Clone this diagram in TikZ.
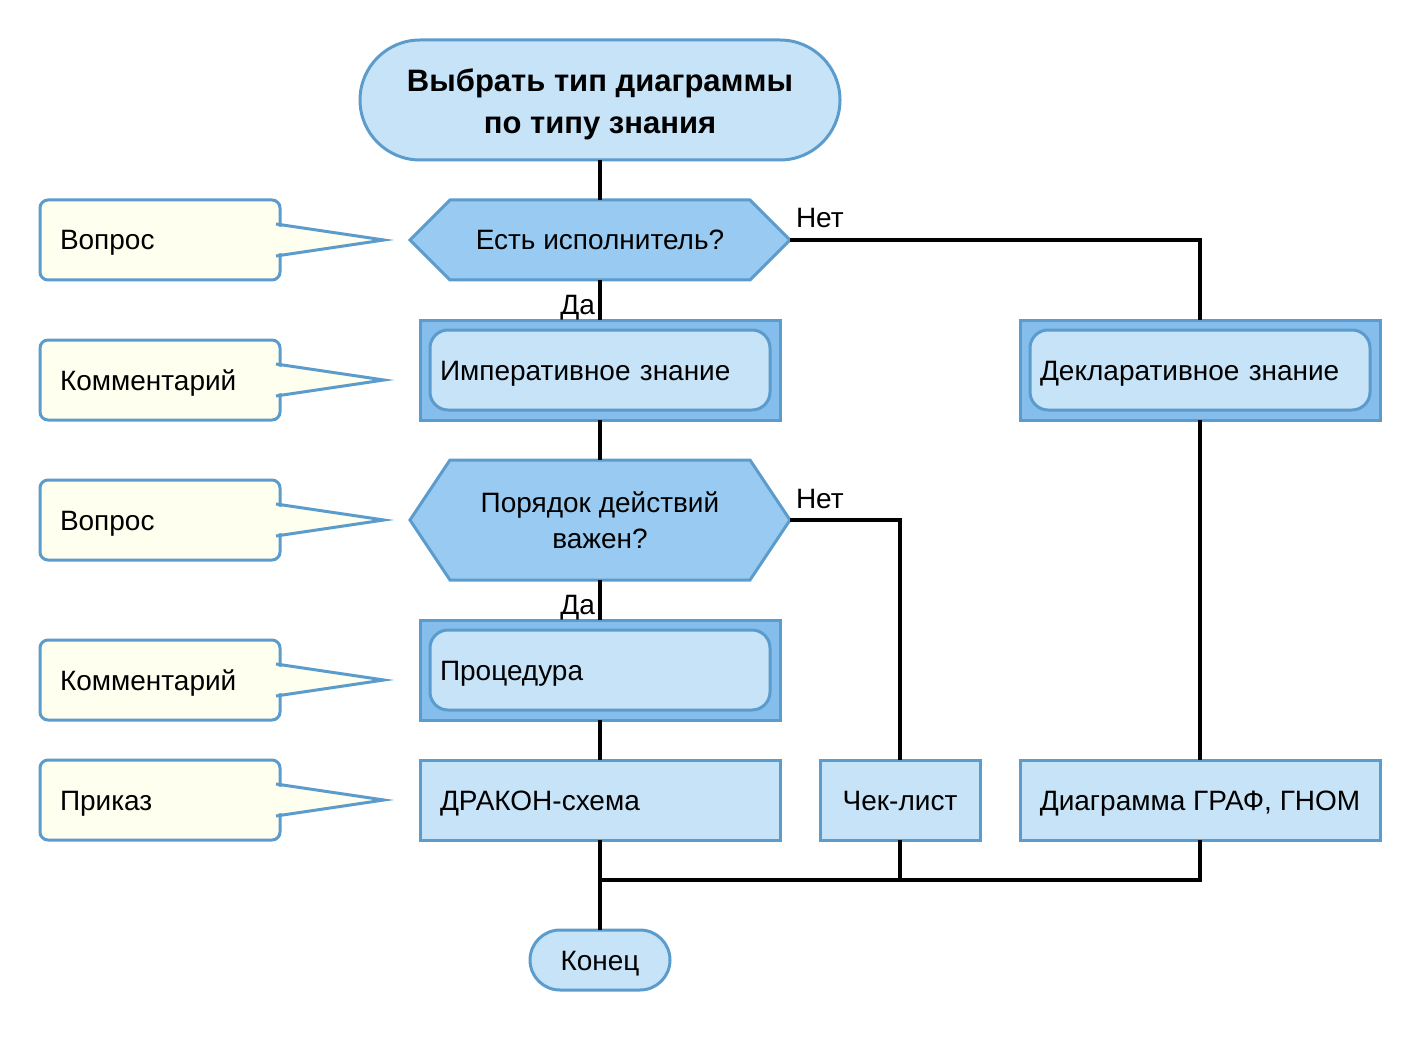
\documentclass[tikz,border=0pt]{standalone}
\usepackage{fontspec}
\setmainfont{Liberation Sans}
\usetikzlibrary{calc,backgrounds}
\definecolor{strokeblue}{RGB}{92,156,204}
\definecolor{lightblue}{RGB}{198,227,247}
\definecolor{midblue}{RGB}{153,203,242}
\definecolor{outerblue}{RGB}{133,190,236}
\definecolor{ivory}{RGB}{255,255,239}
\begin{document}
\begin{tikzpicture}[x=1pt,y=-1pt,
  every node/.style={outer sep=0pt},
  txt/.style={font=\fontsize{28}{36}\selectfont},
  one/.style={text height=26pt, text depth=6pt},
  bl/.style={draw=strokeblue, line width=3pt},
  stadium/.style={bl, fill=lightblue, txt},
  outerbox/.style={bl, fill=outerblue, minimum width=360, minimum height=100},
  innerbox/.style={bl, fill=lightblue, rounded corners=18, minimum width=340, minimum height=80,
     text width=320, inner xsep=10, align=left, txt, one},
  plainbox/.style={bl, fill=lightblue, minimum height=80, txt, one},
  hexnode/.style={minimum width=380, txt, align=center},
  hexfill/.style={bl, fill=midblue, line join=miter},
  callbox/.style={bl, fill=ivory, rounded corners=8, minimum width=240, minimum height=80,
     text width=200, inner xsep=20, align=left, txt, one},
  callptr/.style={bl, fill=ivory, line join=miter},
  conn/.style={line width=3.6pt, black, line join=miter},
  lbl/.style={txt, inner sep=0pt}
]
\useasboundingbox (0,0) rectangle (1420,1040);

% title
\node[stadium, rounded corners=60, minimum width=480, minimum height=120, align=center,
  font=\fontsize{31}{42}\selectfont\bfseries] (title) at (600,100) {\rule{0pt}{31pt}Выбрать тип диаграммы\\по типу знания};

% hexagons (text nodes, outline drawn on background)
\node[hexnode, minimum height=80, one] (h1) at (600,240) {Есть исполнитель?};
\node[hexnode, minimum height=120] (h2) at (600,520) {Порядок действий\\важен?};
\begin{scope}[on background layer]
\foreach \h in {h1,h2}{
  \draw[hexfill] (\h.west) -- ($(\h.north west)+(40,0)$) -- ($(\h.north east)+(-40,0)$)
    -- (\h.east) -- ($(\h.south east)+(-40,0)$) -- ($(\h.south west)+(40,0)$) -- cycle;
}
\end{scope}

% double boxes
\node[outerbox] (imp) at (600,370) {};
\node[innerbox] (impin) at (600,370) {Императивное знание};
\node[outerbox] (decl) at (1200,370) {};
\node[innerbox] (declin) at (1200,370) {Декларативное знание};
\node[outerbox] (proc) at (600,670) {};
\node[innerbox] (procin) at (600,670) {Процедура};

% plain boxes
\node[plainbox, minimum width=360, text width=320, inner xsep=20, align=left] (drakon) at (600,800) {ДРАКОН-схема};
\node[plainbox, minimum width=160] (chek) at (900,800) {Чек-лист};
\node[plainbox, minimum width=360] (graf) at (1200,800) {Диаграмма ГРАФ, ГНОМ};

% end
\node[stadium, one, rounded corners=30, minimum width=140, minimum height=60] (konec) at (600,960) {Конец};

% callouts
\foreach \n/\y/\t in {c1/240/Вопрос, c2/380/Комментарий, c3/520/Вопрос, c4/680/Комментарий, c5/800/Приказ}{
  \node[callbox] (\n) at (160,\y) {\t};
  \fill[ivory] ($(\n.east)+(-6,-14)$) -- ($(\n.east)+(104,0)$) -- ($(\n.east)+(-6,14)$) -- cycle;
  \draw[callptr, fill=none] ($(\n.east)+(-4,-16)$) -- ($(\n.east)+(104,0)$) -- ($(\n.east)+(-4,16)$);
}

% connectors
\coordinate (j) at (600,880);
\draw[conn] (title.south) -- (h1.north);
\draw[conn] (h1.south) -- (imp.north);
\draw[conn] (imp.south) -- (h2.north);
\draw[conn] (h2.south) -- (proc.north);
\draw[conn] (proc.south) -- (drakon.north);
\draw[conn] (drakon.south) -- (konec.north);
\draw[conn] (h1.east) -| (decl.north);
\draw[conn] (decl.south) -- (graf.north);
\draw[conn] (h2.east) -| (chek.north);
\draw[conn] (chek.south) -- (chek.south |- j);
\draw[conn] (graf.south) |- (j);

% labels
\node[lbl, anchor=base west] (no1) at (796,228) {Нет};
\node[lbl, anchor=base east] (yes1) at (595,314) {Да};
\node[lbl, anchor=base west] (no2) at (796,508) {Нет};
\node[lbl, anchor=base east] (yes2) at (595,614) {Да};
\end{tikzpicture}
\end{document}
